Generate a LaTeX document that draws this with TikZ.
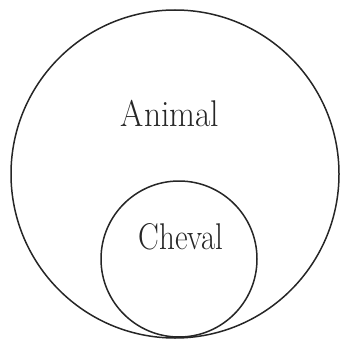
\documentclass[tikz,border=0pt]{standalone}
\usepackage{graphicx}
\begin{document}
\begin{tikzpicture}[x=1pt,y=1pt,
  ring/.style={draw=black!85,line width=1.5pt,circle,inner sep=0pt},
  lbl/.style={font=\fontsize{31}{31}\selectfont,text=black!85}]
\useasboundingbox (0,0) rectangle (342,338);
\node[ring,minimum size=328pt] (animal) at (175,164) {};
\node[ring,minimum size=156pt] (cheval) at (179,79) {};
\node[lbl] (ta) at (170,225) {\scalebox{1.08}[1.2]{Animal}};
\node[lbl] (tc) at (181,101) {\scalebox{1.0}[1.2]{Cheval}};
\end{tikzpicture}
\end{document}
